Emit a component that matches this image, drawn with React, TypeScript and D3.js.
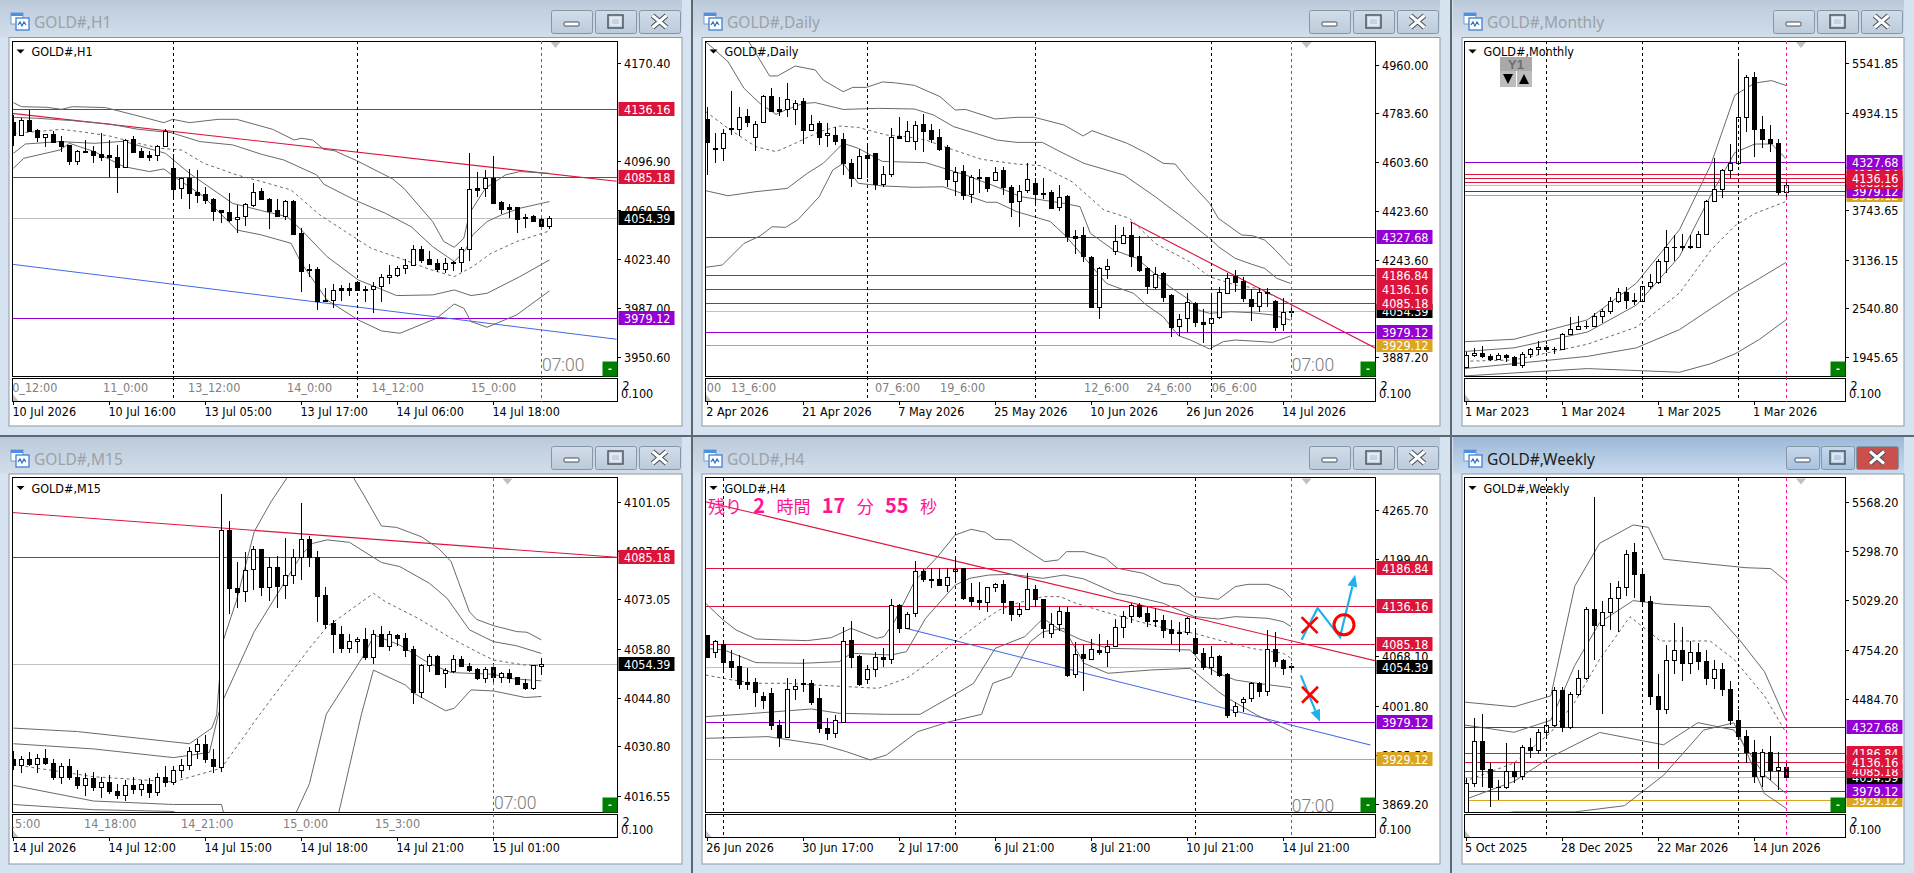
import React from 'react';
import * as d3 from 'd3';

type Candle = [number, number, number, number]; // open, high, low, close
type Pt = [number, number]; // bar index, price

// ---------- H1 ----------
const h1Candles: Candle[] = [
  [4126.3,4131.8,4108.8,4116.8],[4117,4129.3,4116,4128],[4127.8,4135.5,4118.8,4119.8],[4120.5,4121,4111.8,4115.5],
  [4115.5,4117.5,4108,4117.3],[4117.3,4120,4111,4111.8],[4112.3,4116,4104.3,4108.8],[4109.3,4109.3,4094.3,4097.5],
  [4097.5,4105.5,4094.3,4104.5],[4104.8,4113,4104,4104.3],[4104.5,4108.5,4096,4102],[4102.5,4118,4097.5,4100.5],
  [4101.8,4113,4085.5,4100],[4100,4109.3,4073,4093],[4093,4113.5,4091.8,4112.8],[4113.8,4116,4103.5,4104.3],
  [4104.5,4106.8,4100,4100.5],[4101.5,4105,4097.5,4100.5],[4101.5,4109.3,4097.5,4108.5],[4108.3,4121,4108,4119.5],
  [4091.8,4102.5,4068.5,4076.3],[4076.8,4084.3,4068.5,4084.3],[4084.5,4091,4061,4073.5],[4074,4090.5,4065.5,4072],
  [4072.5,4078,4065,4068],[4068.8,4069.3,4052.5,4060],[4060.3,4060.3,4050.5,4058.8],[4058.8,4073,4051.8,4053],
  [4053.5,4064.3,4043.5,4055.5],[4055.8,4065.5,4048.5,4064.8],[4064.5,4080.5,4063,4074.3],[4074.5,4076.8,4068,4068.5],
  [4068.5,4069.3,4046.5,4060],[4060.3,4068.5,4055,4056],[4056.3,4068,4053,4067],[4067.3,4068,4041.8,4042.5],
  [4043,4046.8,3999,4015],[4016.3,4020,4010,4015.3],[4016,4017.5,3985.5,3992.5],[3993,4001.8,3991.8,3992.3],
  [3992.8,4005,3986.8,4000.8],[4001.8,4004.3,3992.5,4000.8],[4001.8,4005.5,3996,4000.8],[4006.3,4006.8,4000,4000.8],
  [4001.3,4003.5,3991.8,4000.8],[4001.3,4006.8,3983,4003.8],[4003.8,4012.5,3991.8,4010],[4010,4019,4005,4012],
  [4012,4018.5,4010.5,4016.8],[4016.8,4023.5,4012.5,4019.5],[4019.5,4034.3,4018.5,4031],[4031,4033.5,4021,4023.3],
  [4023.5,4029.8,4019.3,4020],[4020.5,4023.5,4014.3,4016],[4016,4024.3,4013,4021],[4021,4022.3,4015,4021.5],
  [4021.5,4032.5,4014.3,4031],[4031,4103,4022.5,4076],[4076.8,4089,4070.5,4075.8],[4076.8,4090.5,4070.5,4084.8],
  [4084.8,4101,4065,4065.8],[4066.5,4067.3,4057.5,4061.5],[4062.5,4064.8,4054.3,4061.5],[4062.5,4063,4043,4054],
  [4054.3,4057.3,4047.3,4055.5],[4055.8,4056.8,4052,4052.5],[4053.8,4054.3,4048,4048.5],[4048.8,4056,4046.3,4054.3],
];
const h1Upper2: Pt[] = [[0,4141],[1,4138],[4.2,4137.5],[6,4136],[7.4,4138],[11.5,4137.3],[15.1,4131.8],[18.8,4126],[19.9,4128.5],[22,4126],[25.6,4128.5],[27.9,4128.5],[32.4,4121],[35.1,4113],[36,4114.3],[37.4,4113],[38.8,4106],[40.1,4105],[42.9,4097.5],[47.4,4083.8],[48.8,4076.8],[52.4,4051.8],[53.8,4036.8],[55.1,4032.5],[56.3,4039.3],[57,4058],[59,4076.8],[61.5,4086.8],[63.3,4089.3],[67,4088]];
const h1Upper1: Pt[] = [[0,4130],[2.9,4129.3],[7.4,4127.5],[12,4125],[15.6,4121],[19.7,4118.5],[23.3,4111.8],[27.4,4109.3],[31,4102.3],[33.8,4098],[37.9,4086.8],[38.8,4079.8],[42.9,4067.3],[46.5,4058],[49.7,4048],[52.4,4033],[55.1,4021.8],[56.5,4030.5],[57.4,4041.8],[59.2,4051.8],[61,4056.8],[63.3,4061.8],[67,4066.8]];
const h1Mid: Pt[] = [[0,4118],[2.9,4119.3],[6,4121],[8.3,4119.3],[12,4116],[15.6,4110.5],[18.3,4106.8],[21,4105.5],[23.8,4095.5],[27.9,4086.8],[31.5,4081],[34.7,4075.5],[38.3,4056.8],[41.5,4044.3],[44.7,4031.8],[48.3,4024.3],[52,4016],[55.1,4010.5],[57.4,4018],[59.7,4028],[62.9,4036.8],[67,4044.8]];
const h1Lower1: Pt[] = [[0,4103],[1.5,4110],[5.8,4111.8],[10.1,4110.5],[13.8,4112],[19,4103],[22,4088],[27.4,4065.5],[31,4060],[34.2,4055.5],[36,4045.5],[39.2,4025.5],[43.1,4008],[47.9,3996.3],[52.4,3996.8],[55.1,4000.5],[57.2,3996.3],[59.2,3998],[63.3,4010.5],[67,4023]];
const h1Lower2: Pt[] = [[0,4091.8],[1.3,4099.3],[5.8,4105.5],[7,4110.5],[10.1,4104.3],[13.8,4093],[17,4089.3],[18.8,4091.3],[20.1,4085.5],[23.8,4070.5],[27.9,4045.5],[31,4041.8],[34.7,4035.5],[36,4020.5],[39.2,3993],[43.1,3978],[46,3969.8],[48.3,3968],[52.9,3979.3],[55.1,3990],[56.3,3986.8],[57.2,3976.8],[59.2,3972.5],[62.9,3981.8],[67,3999.8]];
const h1Ticks = [4170.4, 4096.9, 4060.5, 4023.4, 3987.0, 3950.6];
const h1Levels = [4136.16, 4085.18, 3979.12];
const h1Red: Pt[] = [[-0.2,4133],[75.4,4082]];
const h1Blue: Pt[] = [[-0.2,4019.8],[75.4,3963.5]];
const h1Bottom = ['10 Jul 2026','10 Jul 16:00','13 Jul 05:00','13 Jul 17:00','14 Jul 06:00','14 Jul 18:00'];
const h1Top = ['10_12:00','11_0:00','13_12:00','14_0:00','14_12:00','15_0:00'];

// ---------- Daily ----------
const dailyCandles: Candle[] = [
  [4759,4803,4554,4677],[4652,4707,4600,4648],[4652,4722,4607,4707],[4726,4864,4701,4722],[4722,4803,4697,4766],
  [4770,4795,4732,4750],[4692.5,4754,4643.5,4740],[4748,4848,4746,4843],[4843,4873,4789,4790.5],[4795,4842,4771,4790.5],
  [4795,4891,4768.5,4834.5],[4795,4830,4739,4820],[4825,4836,4668,4721],[4721,4774.5,4717,4740],[4744,4754,4664,4695],
  [4700,4744,4658,4710],[4700,4732,4664,4680],[4685,4707,4554,4597],[4599.5,4612,4511,4544],[4544,4648.5,4542,4623],
  [4626,4670.5,4542,4615],[4634,4636,4499,4521],[4522,4587,4511,4556.6],[4559,4725.6,4545.5,4692.5],[4697,4766,4685,4689],
  [4680,4754,4676.6,4717],[4680,4754,4646,4736.6],[4740,4778,4640,4717],[4718,4741.5,4670.5,4687.6],[4692.5,4722,4643.5,4651],
  [4656,4664,4511,4540.6],[4531,4584.8,4477,4566.4],[4567.6,4591,4462,4482],[4483,4554,4452.5,4545.6],[4548,4575,4487,4544.3],
  [4545.6,4548,4490.5,4507.6],[4534.5,4582,4532,4566.4],[4571,4582,4480.7,4509],[4511,4517.4,4401,4456],[4457.4,4517.4,4364.3,4496.6],
  [4498,4597,4489,4540.6],[4523.5,4542,4440,4485.6],[4489,4542,4464.8,4485.6],[4490.5,4499,4428,4434],[4438,4517.4,4423,4474.5],
  [4477,4480.7,4309,4329],[4329,4352,4264,4324],[4332.5,4362,4236,4256.6],[4253,4256.6,4064.3,4070.5],[4070.5,4217.4,4024,4211.3],
  [4210,4244.3,4171,4218.6],[4273.7,4370.5,4260,4310.5],[4305.6,4362,4303,4332.5],[4332.5,4383,4217.4,4258],[4255.4,4330,4199,4205],
  [4211.3,4217.4,4117,4147.6],[4141.5,4217.4,4134,4189.2],[4193,4199,4089,4107],[4113.3,4115.8,3958,3997],[3999,4043.5,3963,4024],
  [4027.6,4119.5,3977,4086.4],[4082.7,4089,3997,4015.3],[4015.3,4060.7,3938,4005.6],[4009,4119.5,3917.4,4030],[4033.7,4141.5,4024,4123],
  [4122,4193,4119.5,4174.6],[4183.3,4205,4124.4,4162.3],[4164.7,4180.6,4089,4103.5],[4097.4,4134,4019,4074],[4074,4138,4052,4123],
  [4125.5,4138,4070.5,4122],[4091.3,4095,3982,3997],[4005.6,4101,3982,4049.7],[4054.5,4064.3,4033.7,4051],
];
const dailyUpper2: Pt[] = [[-0.2,5148],[5.2,5044],[7.8,4918],[8.8,4918],[11,4954.5],[13.5,4940],[14.5,4903],[17,4860],[18.2,4876],[19.9,4876],[21.9,4896],[23.4,4893],[25.9,4883.5],[29.1,4842],[31,4793],[32.3,4795],[36,4760],[38.7,4766],[40.9,4766],[44.6,4738],[47,4697.4],[48.1,4717],[52.5,4670.5],[54.8,4636],[57,4597],[58.5,4594.5],[60.3,4529.6],[62.8,4450],[63.9,4395],[66.8,4334],[68.2,4331],[69.7,4315],[71,4278.6],[72.9,4220]];
const dailyUpper1: Pt[] = [[-0.2,5044],[2.6,4970.5],[4.6,4872.5],[6.6,4817],[8.6,4777],[9.8,4793],[12,4817],[13.5,4820],[17,4795],[21.4,4799],[25.9,4796.6],[28.3,4774.5],[30.8,4731.7],[33.3,4709.6],[36.2,4682.7],[38.7,4674],[41.9,4674],[44.1,4640],[47.1,4597],[52.1,4554],[56,4474.5],[60.3,4379],[62.8,4321.5],[63.9,4291],[66,4248],[68,4227],[69.7,4211],[71.2,4174.6],[72.9,4156]];
const dailyMid: Pt[] = [[-0.2,4787],[2.6,4725.6],[6.1,4658],[8.6,4640],[11,4670.5],[14,4713],[16.5,4734],[18.9,4729],[22.4,4701],[24.9,4695],[27.3,4683],[30.8,4646],[34.3,4611.7],[38.7,4594.5],[41.7,4588.4],[45.6,4529.6],[49.6,4425.6],[52.8,4395],[56,4303],[60.3,4235.8],[62.8,4180.6],[66,4150],[68.7,4138],[70.1,4119.5],[72.8,4082.7]];
const dailyLower1: Pt[] = [[-0.2,4496.6],[2.6,4478],[6.1,4493],[10,4505],[12.5,4560],[14.5,4597],[17,4670.5],[18.9,4652],[21.9,4604],[27.3,4599.5],[32.3,4554],[37.2,4499],[39.2,4474.5],[44.6,4450],[46.6,4438],[47.9,4340],[50.8,4278.6],[53.7,4248],[57.8,4144],[60.3,4095],[61.4,4058],[62.8,4046],[65.5,4052],[68,4048.4],[70.7,4040],[72.9,4021.5]];
const dailyLower2: Pt[] = [[-0.2,4215],[1.9,4223.5],[4.6,4303],[6.6,4330],[8.1,4364],[9.8,4362],[11.3,4389],[14,4474.5],[15.7,4572.5],[17,4597],[18.9,4523.5],[21.9,4514],[25.9,4509],[29.5,4511],[32.4,4480.7],[34.9,4454],[36.2,4454],[38.7,4419.5],[42.9,4383],[44.9,4327.6],[49.9,4156],[51.2,4141.5],[53.3,4119.5],[54.9,4076.6],[57,4033.7],[58.9,3964],[60.4,3948],[62.8,3915],[64.5,3942],[66,3948],[70.7,3939.5],[72.9,3962.7]];
const dailyTicks = [4960, 4783.6, 4603.6, 4423.6, 4243.6, 3887.2];
const dailyLevels = [4327.68, 4186.84, 4136.16, 4085.18, 3979.12, 3929.12];
const dailyRed: Pt[] = [[52.9,4382.7],[83.6,3917]];
const dailyBottom = ['2 Apr 2026','21 Apr 2026','7 May 2026','25 May 2026','10 Jun 2026','26 Jun 2026','14 Jul 2026'];
const dailyTop = ['01_6:00','13_6:00','07_6:00','19_6:00','12_6:00','24_6:00','06_6:00'];

// ---------- Monthly ----------
const monthlyCandles: Candle[] = [
  [1825,2009,1810,1969],[1969,2049,1950,1990],[1990,2080,1932,1962],[1962,1985,1893,1919],[1919,1987,1903,1965],
  [1965,1980,1884,1940],[1940,1953,1849,1849],[1849,2009,1810,1984],[1984,2052,1932,2036],[2036,2135,1973,2063],
  [2063,2088,2001,2039],[2039,2065,1984,2044],[2044,2235,2039,2230],[2230,2431,2228,2286],[2286,2450,2277,2327],
  [2327,2387,2286,2326],[2326,2483,2319,2447],[2447,2531,2364,2503],[2503,2685,2471,2634],[2634,2790,2603,2744],
  [2744,2801,2537,2643],[2643,2726,2583,2624],[2624,2817,2614,2812],[2812,2956,2772,2857],[2857,3149,2833,3123],
  [3123,3500,2970,3288],[3288,3435,3120,3289],[3289,3452,3247,3303],[3303,3439,3268,3290],[3290,3489,3282,3447],
  [3447,3871,3436,3858],[3858,4381,3850,4002],[4002,4245,3886,4239],[4239,4550,4140,4319],[4319,5595,4300,4890],
  [4890,5400,4700,5380],[5380,5440,4400,4740],[4740,4900,4500,4620],[4620,4780,4450,4560],[4560,4620,3930,3960],
  [3960,4100,3900,4054],
];
const monthlyUpper2: Pt[] = [[-0.2,2131],[6,2161],[15.2,2400],[21.3,2849],[26.7,3506],[30.6,4299],[33.6,5151],[36.1,5300],[38.2,5330],[40,5270]];
const monthlyUpper1: Pt[] = [[-0.2,2011],[6,2056],[15.2,2250],[21.3,2580],[26.7,3178],[30.6,3925],[33.6,4448],[36.1,4553],[38.2,4553],[40,4373]];
const monthlyMid: Pt[] = [[-0.2,1892],[6,1907],[15.2,2101],[21.3,2310],[26.7,2729],[30.6,3252],[33.6,3551],[36.1,3701],[40,3850]];
const monthlyLower1: Pt[] = [[-0.2,1802],[15.2,1952],[21.3,2056],[26.7,2280],[30.6,2535],[33.6,2729],[36.7,2908],[40,3103]];
const monthlyLower2: Pt[] = [[-0.2,1712],[15.2,1802],[26.7,1757],[30.6,1862],[33.6,1981],[36.7,2161],[40,2400]];
const monthlyTicks = [5541.85, 4934.15, 3743.65, 3136.15, 2540.8, 1945.65];
const monthlyLevels = dailyLevels;
const monthlyBottom = ['1 Mar 2023','1 Mar 2024','1 Mar 2025','1 Mar 2026'];

// ---------- M15 ----------
const m15Candles: Candle[] = [
  [4027,4029.5,4024,4025.5],[4025.5,4028,4023,4027],[4027,4029,4025,4025.8],[4025.8,4028.5,4023,4027.5],[4027.5,4030,4025.5,4026],
  [4026,4027,4021,4022],[4022,4026,4020,4025],[4025,4027,4021,4021.8],[4021.8,4024,4018.5,4019.5],[4019.5,4023,4016.5,4021.5],
  [4021.5,4023.5,4018,4019],[4019,4022,4016,4020.5],[4020.5,4022.5,4017,4018],[4018,4020,4015.5,4016.8],[4016.8,4021,4015,4019.5],
  [4019.5,4022,4017,4018.5],[4018.5,4021,4016.5,4020],[4020,4021.5,4016,4017.5],[4017.5,4023,4016.5,4022],[4022,4025,4019,4020.5],
  [4020.5,4025,4019.5,4024],[4024,4027,4021.5,4025.5],[4025.5,4030.5,4024,4029.5],[4029.5,4033,4027,4031.5],[4031.5,4034,4026,4027],
  [4027,4030,4023,4025],
  [4024.9,4103.3,4023.5,4092.95],[4093,4095.6,4069,4076.3],[4076.3,4083.7,4070.7,4075.3],[4075.4,4086.6,4072.2,4081.4],[4081.7,4088.5,4075.9,4087.5],
  [4087.6,4087.6,4074.1,4076.7],[4076.5,4085.3,4072.6,4082.3],[4082.4,4085.6,4070.7,4077],[4077.1,4090.7,4073.2,4080],[4080.2,4087.6,4077.6,4085.2],
  [4085.2,4100.8,4078.6,4090.4],[4090.4,4091.3,4082.4,4085.2],[4085.2,4087,4066.7,4074.1],[4074.3,4076.5,4064.5,4066.1],[4066.2,4067.1,4057.7,4063],
  [4063,4065.4,4057.7,4059.2],[4059.2,4063,4057.7,4061],[4061,4062.3,4057.7,4061.6],[4061.6,4064.7,4055.6,4056.6],[4056.6,4064.25,4054.6,4063],
  [4063,4065.4,4059.4,4059.6],[4059.7,4064,4058.2,4063],[4062.8,4063.1,4059.7,4061.9],[4061.9,4063.3,4056.6,4058.6],[4058.7,4059.7,4042.8,4046.5],
  [4046.5,4054.6,4044.8,4054.1],[4054.1,4057.4,4052.2,4056.7],[4056.8,4057.1,4051.5,4051.6],[4051.8,4053.2,4047.6,4052.6],[4052.5,4057.05,4051.8,4055.8],
  [4055.9,4056.8,4053.6,4053.8],[4053.8,4054.7,4052.2,4052.6],[4052.9,4053.4,4049.8,4050.3],[4050.3,4053.6,4049.1,4052.9],[4053.5,4054.7,4048.6,4050.6],
  [4050.6,4052.1,4049.1,4051.8],[4051.8,4053,4048.9,4050.4],[4050.6,4050.8,4048.6,4048.8],[4049,4050.1,4046.9,4047.6],[4047.6,4054.1,4046.9,4054.1],
  [4053.8,4056.3,4051.3,4054.4],
];
const m15Upper2: Pt[] = [[0,4036],[8,4035],[16,4033],[22,4031.5],[24.8,4036],[25.4,4039.8],[26.1,4060.4],[27.9,4072.9],[30.1,4092.6],[32.2,4101.2],[34.2,4108.1],[36,4114.6],[40.8,4114.6],[42.5,4108.1],[43.8,4103.1],[46,4094.2],[47.9,4093.8],[51,4091.1],[53.1,4087.8],[54.7,4084],[57,4069.5],[57.9,4067.3],[60,4065.5],[62.9,4063.8],[64.2,4063.6],[66,4061.4]];
const m15Upper1: Pt[] = [[0,4031.5],[10,4030],[20,4027.5],[24.5,4029],[25.6,4039.8],[26.1,4043.6],[30.1,4063.8],[36,4085.9],[37.4,4089.2],[39.2,4090.2],[42,4089.5],[46,4083.7],[48.3,4082.5],[52,4077.7],[54.2,4073.4],[57,4064.3],[60,4060.9],[62.9,4059.7],[66,4057.5]];
const m15Mid: Pt[] = [[0,4025.5],[10,4022],[20,4020.5],[26,4024.5],[30.8,4040],[37,4059],[39.2,4065.2],[45,4074.8],[46.5,4072.4],[50.6,4067.6],[54.7,4061.9],[57.9,4058],[60,4055.6],[63.8,4054.2],[66,4054]];
const m15Lower1: Pt[] = [[0,4019.5],[10,4015],[20,4014],[26,4014],[27,4005],[34,4005],[37,4020],[39.1,4040],[43.8,4057],[45.1,4062.8],[48.3,4059.9],[52,4054.6],[54.7,4052],[60,4051.5],[62,4050.3],[66,4049.6]];
const m15Lower2: Pt[] = [[0,4014],[10,4012.5],[20,4012],[26,4005],[40,4005],[43.5,4040],[45,4052.7],[49,4048.4],[50.1,4046],[54,4041],[55.1,4041.7],[57.2,4047],[60,4046.7],[64,4044.8],[66,4045.1]];
const m15Ticks = [4101.05, 4087.05, 4073.05, 4058.8, 4044.8, 4030.8, 4016.55];
const m15Levels = [4085.18];
const m15Red: Pt[] = [[-0.2,4098.1],[75.4,4085.2]];
const m15Bottom = ['14 Jul 2026','14 Jul 12:00','14 Jul 15:00','14 Jul 18:00','14 Jul 21:00','15 Jul 01:00'];
const m15Top = ['14_15:00','14_18:00','14_21:00','15_0:00','15_3:00'];

// ---------- H4 ----------
const h4Candles: Candle[] = [
  [4097,4097,4065.5,4067.8],[4074.5,4090.3,4065.5,4088.5],[4084.9,4085.8,4047.5,4061],[4061.9,4076.8,4039.4,4054.3],[4055.2,4070,4024.1,4030.9],
  [4033.1,4052,4022.8,4031.3],[4033.1,4039.4,4000.3,4020],[4014.7,4020.5,3997.1,4009.3],[4018.3,4025,3968.8,3975.5],[3975.5,3982,3945.8,3959.8],
  [3959.8,4038.5,3957.5,4023.7],[4023.7,4037.6,4009.3,4028.6],[4031.8,4064.6,4020.5,4030.4],[4032.7,4036.3,4002.5,4007],[4011.5,4025,3964.3,3971],
  [3971.9,3984.5,3955.3,3964.3],[3964.3,3989,3957.5,3982.3],[3980,4108.3,3977.8,4089.4],[4090.3,4115.9,4052,4067.8],[4068.7,4070,4028.2,4030.9],
  [4037.2,4056.5,4030.9,4051.1],[4050.7,4074.5,4040.8,4066.9],[4066.9,4079.9,4054.3,4064.6],[4065,4145.6,4057.4,4137],[4137,4138.9,4100.2,4106.9],
  [4106,4127.6,4104.7,4124.9],[4126.3,4196.9,4120.9,4183.4],[4183.9,4185.7,4169,4172.2],[4173.1,4187,4160.9,4171.7],[4172.6,4187,4163.2,4164.5],
  [4164.5,4187,4155.5,4175.8],[4183.9,4203.7,4169,4186.6],[4187,4187,4144.3,4147.4],[4148.3,4166.8,4136.2,4143.4],[4144.3,4169,4130.8,4141.1],
  [4141.1,4162.3,4128,4161.4],[4161.4,4167.7,4155.5,4165.4],[4165.4,4171.3,4125.4,4142],[4142.5,4143.4,4116.4,4124.9],[4124.9,4140.7,4120.9,4131.7],
  [4131.7,4180.3,4130.8,4158.7],[4158.7,4164.5,4135.3,4145.2],[4145.2,4145.6,4092.5,4106],[4099.3,4126.3,4092.5,4111.4],[4111.4,4135.3,4102.9,4129],
  [4128,4135.3,4040.8,4043],[4044,4087.1,4038.5,4071],[4071.4,4083.5,4021.9,4065.5],[4064.6,4091.2,4063.3,4077.7],[4076.8,4098.4,4070,4073.6],
  [4073.6,4090.3,4054.3,4082.2],[4082.2,4118.2,4081.3,4107.4],[4107.4,4129.9,4092.5,4122.2],[4122.7,4140.7,4112.8,4137.5],[4137.5,4139.8,4119.5,4122.7],
  [4126.3,4135.3,4108.3,4116.4],[4117.3,4133,4108.3,4115.9],[4117.3,4124,4093.4,4103.8],[4105.1,4117.3,4084.9,4100.2],[4101.5,4115,4074.5,4100.2],
  [4101.5,4121.8,4097,4119.5],[4092.5,4106.9,4071.4,4072.3],[4072.3,4079,4049.8,4054.3],[4053.4,4082.6,4043,4067.8],[4068.7,4070,4040.8,4043],
  [4044.4,4045.3,3985,3989],[3992.6,4007,3986.8,4001.2],[4007,4013.8,3993.5,4010.2],[4011.5,4034,4006.1,4031.8],[4031.8,4034,4013.8,4021.9],
  [4021.9,4103.8,4015.1,4077.7],[4077.7,4101.5,4054.3,4062.4],[4063.3,4064.6,4043,4052.9],[4055.2,4058.8,4047.5,4053.8],
];
const h4Upper2: Pt[] = [[-0.2,4139.8],[2,4117.3],[3.6,4103.8],[6.1,4091.6],[9.5,4090.3],[12.5,4089.4],[15.5,4093.4],[18,4106],[21.2,4092.5],[22.1,4094.8],[23.4,4115],[25.9,4169],[28.8,4202.8],[31,4232],[33,4239.7],[34.8,4235.6],[36,4226.2],[38,4225.3],[42.2,4196],[43.9,4198.3],[44.9,4209.5],[47.1,4209.5],[49.8,4200.5],[51.3,4187],[54.5,4180.3],[57,4166.8],[59,4163.6],[60.9,4148.8],[63.9,4145.2],[66,4162.3],[67.6,4165.4],[70.1,4165.4],[72,4157.8],[73,4146.5]];
const h4Upper1: Pt[] = [[-0.2,4079],[2.1,4076.8],[6.1,4059.7],[12,4058.8],[16.5,4061],[18,4072.3],[23,4070],[24.9,4074.5],[27.3,4119.5],[31,4164.5],[32.8,4173.5],[35.2,4178],[38,4178.9],[42,4173.5],[44.6,4178],[47.1,4172.6],[51.1,4153.3],[53,4150],[57,4139.8],[60.9,4121.8],[63.9,4118.6],[66,4121.8],[70.1,4119.5],[72,4115],[73,4108.3]];
const h4Mid: Pt[] = [[-0.2,4043],[3.1,4036.3],[6.1,4031.8],[10,4031.8],[13.5,4029.5],[17.4,4027.3],[21.4,4025],[24.9,4038.5],[27.3,4056.5],[31,4088],[34.3,4115],[36.5,4130.8],[38.7,4139.8],[42,4148.8],[44.1,4148.8],[46.1,4139.8],[49.6,4128.5],[54,4115],[58,4103.8],[60.9,4099.3],[63.9,4090.3],[68,4079],[72,4072.3],[73,4065.5]];
const h4Lower1: Pt[] = [[-0.2,3986.8],[4.1,3989.9],[8.6,3993.5],[13,3997.1],[16.5,3991.3],[22.4,3989.9],[26.6,3989.9],[31,4016.9],[33.3,4031.8],[36,4079],[39.7,4094.8],[42,4119.5],[44.1,4103.8],[46.6,4091.2],[50.1,4079],[60.4,4076.8],[62,4056.5],[63.9,4045.3],[66,4036.3],[68.7,4031.8],[73,4025.9]];
const h4Lower2: Pt[] = [[-0.2,3957.5],[7.6,3959.8],[14.5,3948.5],[17.4,3939.5],[20.4,3928.3],[22.4,3935],[26.3,3966.5],[30.3,3980],[34.3,3989.9],[35.7,4031.8],[38,4040.8],[40.4,4088],[42,4101.5],[44.6,4106],[47.1,4058.8],[50.1,4045.3],[55.5,4049.8],[60.4,4052],[63.9,4020.5],[65.1,4011.5],[68.7,3989],[72.2,3971],[73,3966.5]];
const h4Ticks = [4265.7, 4199.4, 4068.1, 4001.8, 3935.5, 3869.2];
const h4Levels = [4186.84, 4136.16, 4085.18, 3979.12, 3929.12];
const h4Red: Pt[] = [[-0.2,4277],[83.6,4062]];
const h4Blue: Pt[] = [[24.8,4106],[82.9,3948.5]];
const h4Bottom = ['26 Jun 2026','30 Jun 17:00','2 Jul 17:00','6 Jul 21:00','8 Jul 21:00','10 Jul 21:00','14 Jul 21:00'];
const h4UpPath: Pt[] = [[74.3,4090.6],[76.3,4133.4],[79.1,4094.2],[81,4178.3]];
const h4DownPath: Pt[] = [[74.2,4042.4],[76.6,3979.9]];
const h4Crosses: Pt[] = [[75.3,4110.4],[75.35,4016.3]];
const h4Ring: Pt = [79.6,4110.8];

// ---------- Weekly ----------
const weeklyCandles: Candle[] = [
  [3830,4050,3820,4020],[4020,4380,4000,4250],[4250,4400,4000,4100],[4100,4130,3890,4000],[4000,4040,3930,4000],
  [4000,4240,3990,4085],[4085,4130,4020,4060],[4060,4230,4040,4220],[4220,4270,4160,4200],[4200,4320,4180,4300],
  [4300,4380,4270,4340],[4340,4550,4330,4530],[4530,4550,4300,4330],[4330,4520,4320,4510],[4510,4640,4500,4600],
  [4600,4990,4590,4980],[4980,5595,4700,4890],[4890,5020,4400,4960],[4960,5120,4860,5040],[5040,5130,4850,5100],
  [5100,5300,5050,5280],[5290,5340,5040,5170],[5170,5200,4990,5020],[5020,5050,4450,4500],[4500,4620,4100,4430],
  [4430,4780,4400,4700],[4700,4900,4620,4750],[4750,4880,4580,4680],[4680,4800,4620,4740],[4740,4790,4640,4690],
  [4690,4750,4560,4600],[4600,4700,4540,4650],[4650,4680,4500,4540],[4540,4580,4340,4370],[4370,4420,4260,4280],
  [4280,4310,4130,4190],[4190,4260,4020,4060],[4060,4210,4000,4190],[4190,4280,4040,4090],[4090,4190,3980,4110],
  [4110,4130,4030,4054],
];
const weeklyUpper2: Pt[] = [[-0.2,4466],[6,4440],[10.6,4500],[13.6,5104],[16.7,5339],[20.9,5440],[22.8,5427],[24.7,5252],[30.5,5225],[35,5205],[38.1,5200],[40,5131]];
const weeklyUpper1: Pt[] = [[-0.2,4340],[6,4300],[10.6,4366],[13.6,4668],[16.7,4903],[20.9,5024],[24.7,5004],[30.5,4990],[34.3,4802],[37.3,4634],[40,4366]];
const weeklyMid: Pt[] = [[-0.2,4030],[6,4131],[10.6,4299],[13.6,4466],[16.7,4701],[20.5,4936],[24.3,4802],[30.5,4802],[33.5,4701],[37.3,4500],[40,4299]];
const weeklyLower1: Pt[] = [[-0.2,3929],[6,4030],[10.6,4164],[13.6,4231],[16.7,4299],[24.7,4231],[29,4353],[33.5,4312],[37.3,4064],[40,3963]];
const weeklyLower2: Pt[] = [[-0.2,3829],[6,3862],[13.6,3862],[19.8,3896],[24.7,4064],[29.7,4312],[33.5,4352],[37.3,3963],[40,3882]];
const weeklyTicks = [5568.2, 5298.7, 5029.2, 4754.2, 4484.7];
const weeklyLevels = dailyLevels;
const weeklyBottom = ['5 Oct 2025','28 Dec 2025','22 Mar 2026','14 Jun 2026'];

const BID = 4054.39;
const CRIMSON = '#DC143C';
const VIOLET = '#9400D3';
const GOLD = '#DAA520';
const PINK = '#FF1493';
const BLUE = '#4169E1';
const GREY = '#696969';
const AXIS_FONT = '"DejaVu Sans Condensed","DejaVu Sans",sans-serif';

const levelColor = (v: number) =>
  v === 4327.68 || v === 3979.12 ? VIOLET : v === 3929.12 ? GOLD : CRIMSON;

// order the price tags are stacked in, bottom first
const TAG_ORDER = [3929.12, 3979.12, 4085.18, 4186.84, 4136.16, 4327.68];

interface Win {
  title: string; left: number; right: number; top: number; bottom: number; active?: boolean;
}
interface PanelDef {
  id: string; win: Win;
  l: number; r: number; t: number; b: number;
  x0: number; // centre of the first bar
  priceAtTop: [number, number]; // [price, y] pair for the scale
  priceAtBottom: [number, number];
  candles: Candle[];
  bands: Pt[][];
  ticks: number[]; levels: number[];
  reds: Pt[][]; blues: Pt[][];
  dashed: number[]; magenta: number;
  bottom: string[]; top?: string[]; topX?: number[];
  clockY?: number; triangleX: number;
}

const scalesFor = (p: PanelDef) => ({
  x: d3.scaleLinear().domain([0, 1]).range([p.x0, p.x0 + 8]),
  y: d3.scaleLinear().domain([p.priceAtTop[0], p.priceAtBottom[0]]).range([p.priceAtTop[1], p.priceAtBottom[1]]),
});

const rowTop = { t: 41, b: 376.5, stripT: 378.5, stripB: 401.5, labelY: 416 };
const rowBot = { t: 477.5, b: 812.5, stripT: 814.5, stripB: 837.5, labelY: 852 };

const panels: PanelDef[] = [
  { id: 'h1', win: { title: 'GOLD#,H1', left: 0, right: 682, top: 0, bottom: 435 }, l: 12.5, r: 617.5, t: rowTop.t, b: rowTop.b, x0: 13.45,
    priceAtTop: [4218, 0], priceAtBottom: [3935.6, 376.5], candles: h1Candles, bands: [h1Upper2, h1Upper1, h1Mid, h1Lower1, h1Lower2],
    ticks: h1Ticks, levels: h1Levels, reds: [h1Red], blues: [h1Blue], dashed: [20, 43, 66], magenta: 66, bottom: h1Bottom, top: h1Top, topX: [5, 103, 188, 287, 371.5, 471], clockY: 371, triangleX: 555.5 },
  { id: 'daily', win: { title: 'GOLD#,Daily', left: 693, right: 1440, top: 0, bottom: 435 }, l: 705.5, r: 1375.5, t: rowTop.t, b: rowTop.b, x0: 707.2,
    priceAtTop: [5197, 0], priceAtBottom: [3814, 376.5], candles: dailyCandles, bands: [dailyUpper2, dailyUpper1, dailyMid, dailyLower1, dailyLower2],
    ticks: dailyTicks, levels: dailyLevels, reds: [dailyRed], blues: [], dashed: [20, 41, 63], magenta: 73, bottom: dailyBottom, top: dailyTop, topX: [676, 731, 875, 940, 1084, 1146.5, 1211.7], clockY: 371, triangleX: 1306.5 },
  { id: 'monthly', win: { title: 'GOLD#,Monthly', left: 1453, right: 1904, top: 0, bottom: 435 }, l: 1464.5, r: 1845.5, t: rowTop.t, b: rowTop.b, x0: 1466,
    priceAtTop: [6317.3, 0], priceAtBottom: [1705, 376.5], candles: monthlyCandles, bands: [monthlyUpper2, monthlyUpper1, monthlyMid, monthlyLower1, monthlyLower2],
    ticks: monthlyTicks, levels: monthlyLevels, reds: [], blues: [], dashed: [10, 22, 34], magenta: 40, bottom: monthlyBottom, triangleX: 1801 },
  { id: 'm15', win: { title: 'GOLD#,M15', left: 0, right: 682, top: 437, bottom: 873 }, l: 12.5, r: 617.5, t: rowBot.t, b: rowBot.b, x0: 13.45,
    priceAtTop: [4143.45, 355], priceAtBottom: [4011.55, 813], candles: m15Candles, bands: [m15Upper2, m15Upper1, m15Mid, m15Lower1, m15Lower2],
    ticks: m15Ticks, levels: m15Levels, reds: [m15Red], blues: [], dashed: [60], magenta: 60, bottom: m15Bottom, top: m15Top, topX: [-12, 84, 181, 283, 375], clockY: 809, triangleX: 507.5 },
  { id: 'h4', win: { title: 'GOLD#,H4', left: 693, right: 1440, top: 437, bottom: 873 }, l: 705.5, r: 1375.5, t: rowBot.t, b: rowBot.b, x0: 707.2,
    priceAtTop: [4475, 355], priceAtBottom: [3856.7, 813], candles: h4Candles, bands: [h4Upper2, h4Upper1, h4Mid, h4Lower1, h4Lower2],
    ticks: h4Ticks, levels: h4Levels, reds: [h4Red], blues: [h4Blue], dashed: [2, 31, 61], magenta: 73, bottom: h4Bottom, clockY: 812, triangleX: 1306.5 },
  { id: 'weekly', win: { title: 'GOLD#,Weekly', left: 1453, right: 1904, top: 437, bottom: 873, active: true }, l: 1464.5, r: 1845.5, t: rowBot.t, b: rowBot.b, x0: 1466,
    priceAtTop: [5700, 477.7], priceAtBottom: [3856, 813], candles: weeklyCandles, bands: [weeklyUpper2, weeklyUpper1, weeklyMid, weeklyLower1, weeklyLower2],
    ticks: weeklyTicks, levels: weeklyLevels, reds: [], blues: [], dashed: [10, 22, 34], magenta: 40, bottom: weeklyBottom, triangleX: 1801 },
];

const WinButton: React.FC<{ x: number; y: number; w: number; kind: 'min' | 'max' | 'close'; active?: boolean }> = ({ x, y, w, kind, active }) => {
  const h = 23, cx = x + w / 2, cy = y + h / 2;
  const fill = kind === 'close' && active ? '#C9504C' : active ? 'url(#btnA)' : 'url(#btnI)';
  return (
    <g>
      <rect x={x + 0.5} y={y + 0.5} width={w} height={h} rx={2} fill={fill} stroke="#8496A8" />
      {kind === 'min' && <rect x={cx - 7.5} y={cy + 0.5} width={15} height={4} rx={1} fill="#fff" stroke="#45505C" />}
      {kind === 'max' && <><rect x={cx - 7.5} y={cy - 6.5} width={15} height={13} fill="none" stroke="#45505C" strokeWidth={1.4} /><rect x={cx - 4.5} y={cy - 3.5} width={9} height={7} fill="none" stroke="#fff" /></>}
      {kind === 'close' && <g>
        <path d={`M${cx - 7} ${cy - 6}L${cx + 7} ${cy + 6}M${cx + 7} ${cy - 6}L${cx - 7} ${cy + 6}`} stroke="#45505C" strokeWidth={5} />
        <path d={`M${cx - 7} ${cy - 6}L${cx + 7} ${cy + 6}M${cx + 7} ${cy - 6}L${cx - 7} ${cy + 6}`} stroke="#fff" strokeWidth={3} />
      </g>}
    </g>
  );
};

const Window: React.FC<{ win: Win; t: number }> = ({ win, t }) => {
  const titleBottom = t - 3.5;
  const clientLeft = win.left === 0 ? 9 : win.left + 9;
  const btnY = win.top + (win.top === 0 ? 10 : 9);
  const iconX = win.left + 11;
  const iconY = win.top + 13;
  return (
    <g>
      <rect x={win.left} y={win.top} width={win.right - win.left} height={titleBottom - win.top} fill={win.active ? 'url(#titleA)' : 'url(#titleI)'} />
      <rect x={clientLeft} y={titleBottom} width={win.right - clientLeft} height={win.bottom - 9 - titleBottom} fill="#fff" stroke="#8F979F" strokeWidth={1} />
      {/* chart icon */}
      <rect x={iconX} y={iconY} width={12} height={11} fill="#fff" stroke="#6E9CD8" />
      <rect x={iconX + 5} y={iconY + 5} width={13} height={12} fill="#fff" stroke="#3F7FD8" strokeWidth={1.3} />
      <rect x={iconX} y={iconY} width={12} height={3} fill="#4F8FE0" />
      <path d={`M${iconX + 7} ${iconY + 12}l2 -3 2 4 2 -4 2 3`} fill="none" stroke="#2F6FC0" strokeWidth={1.2} />
      <text x={win.left + 34} y={win.top + 28} fontFamily='"Noto Sans",sans-serif' fontSize={15.5} fill={win.active ? '#1c1c1c' : '#9AA2AA'}>{win.title}</text>
      {win.active ? (
        <g>
          <WinButton x={win.right - 118} y={btnY} w={33} kind="min" active />
          <WinButton x={win.right - 83} y={btnY} w={33} kind="max" active />
          <WinButton x={win.right - 48} y={btnY} w={42} kind="close" active />
        </g>
      ) : (
        <g>
          <WinButton x={win.right - 131} y={btnY} w={41} kind="min" />
          <WinButton x={win.right - 87} y={btnY} w={41} kind="max" />
          <WinButton x={win.right - 43} y={btnY} w={41} kind="close" />
        </g>
      )}
    </g>
  );
};

const CandleMark: React.FC<{ c: Candle; cx: number; y: d3.ScaleLinear<number, number> }> = ({ c, cx, y }) => {
  const [o, h, l, cl] = c;
  const up = cl > o;
  const top = Math.round(y(Math.max(o, cl)));
  const bot = Math.round(y(Math.min(o, cl)));
  return (
    <g shapeRendering="crispEdges">
      <line x1={cx} x2={cx} y1={Math.round(y(h))} y2={Math.round(y(l))} stroke="#000" />
      {top === bot
        ? <line x1={cx - 2.5} x2={cx + 2.5} y1={top + 0.5} y2={top + 0.5} stroke="#000" />
        : <rect x={cx - 2} y={top + 0.5} width={4} height={bot - top} fill={up ? '#fff' : '#000'} stroke="#000" />}
    </g>
  );
};

const Panel: React.FC<{ p: PanelDef }> = ({ p }) => {
  const { x, y } = scalesFor(p);
  const row = p.t < 100 ? rowTop : rowBot;
  const line = d3.line<Pt>().x(d => x(d[0])).y(d => y(d[1]));
  const clip = `clip-${p.id}`;
  const stripClip = `strip-${p.id}`;
  const snap = (i: number) => Math.round(x(i)) + 0.5;
  const tags = TAG_ORDER.filter(v => p.levels.includes(v));
  const tagBox = (v: number, fill: string) => {
    const cy = y(v);
    return (
      <g key={v}>
        <rect x={p.r + 1} y={Math.round(cy) - 7} width={56} height={14} fill={fill} />
        <text x={p.r + 6.5} y={Math.round(cy) + 4.6} fontFamily={AXIS_FONT} fontSize={12.5} fill="#fff">{v.toFixed(2)}</text>
      </g>
    );
  };
  return (
    <g>
      <defs>
        <clipPath id={clip}><rect x={p.l} y={p.t} width={p.r - p.l} height={p.b - p.t} /></clipPath>
        <clipPath id={stripClip}><rect x={p.l} y={row.stripT} width={p.r - p.l} height={row.stripB - row.stripT} /></clipPath>
      </defs>
      <g clipPath={`url(#${clip})`}>
        {p.levels.map(v => (
          <line key={v} x1={p.l} x2={p.r} y1={Math.round(y(v)) + 0.5} y2={Math.round(y(v)) + 0.5} stroke={levelColor(v)} shapeRendering="crispEdges" />
        ))}
        <line x1={p.l} x2={p.r} y1={Math.round(y(BID)) + 0.5} y2={Math.round(y(BID)) + 0.5} stroke="#C0C0C0" shapeRendering="crispEdges" />
        {p.reds.map((d, i) => <path key={i} d={line(d) || ''} fill="none" stroke={CRIMSON} strokeWidth={1.1} />)}
        {p.blues.map((d, i) => <path key={i} d={line(d) || ''} fill="none" stroke={BLUE} strokeWidth={1.1} />)}
        {p.bands.map((d, i) => (
          <path key={i} d={line(d) || ''} fill="none" stroke={GREY} strokeWidth={1} strokeDasharray={i === 2 ? '3 3' : undefined} />
        ))}
        {p.candles.map((c, i) => <CandleMark key={i} c={c} cx={snap(i)} y={y} />)}
        {p.clockY !== undefined && (
          <text x={x(p.magenta) + 0.5} y={p.clockY} fontFamily="Roboto,sans-serif" fontWeight={300} fontSize={17.5} fill="#7A7A7A">07:00</text>
        )}
      </g>
      {/* frames */}
      <rect x={p.l} y={p.t} width={p.r - p.l} height={p.b - p.t} fill="none" stroke="#000" shapeRendering="crispEdges" />
      <rect x={p.l} y={row.stripT} width={p.r - p.l} height={row.stripB - row.stripT} fill="#fff" stroke="#000" shapeRendering="crispEdges" />
      <path d={`M${p.l + 0.5} ${row.stripB - 7}L${p.l + 6} ${row.stripB - 0.5}L${p.l + 0.5} ${row.stripB - 0.5}Z`} fill="#C0C0C0" />
      {/* period separators run through the chart and the strip */}
      {p.dashed.map(i => (
        <line key={i} x1={snap(i)} x2={snap(i)} y1={p.t} y2={row.stripB} stroke="#000" strokeDasharray="3 3" shapeRendering="crispEdges" />
      ))}
      <line x1={snap(p.magenta)} x2={snap(p.magenta)} y1={p.t} y2={row.stripB} stroke={PINK} strokeDasharray="3 3" shapeRendering="crispEdges" />
      <path d={`M${p.triangleX - 5} ${p.t + 1}h10l-5 6z`} fill="#C0C0C0" />
      {/* header */}
      <path d={`M${p.l + 4} ${p.t + 8.5}h8l-4 4z`} fill="#000" />
      <text x={p.l + 19} y={p.t + 15} fontFamily={AXIS_FONT} fontSize={12.5} fill="#000">{p.win.title}</text>
      {/* green one-click box */}
      <rect x={p.r - 15} y={p.b - 15} width={15} height={15} fill="#008000" />
      <rect x={p.r - 9} y={p.b - 8} width={3} height={1.5} fill="#fff" />
      {/* strip labels */}
      {p.top && p.topX && (
        <g clipPath={`url(#${stripClip})`}>
          {p.top.map((s, i) => (
            <text key={s} x={p.topX![i]} y={row.stripT + 13} fontFamily={AXIS_FONT} fontSize={12.5} fill="#808080">{s}</text>
          ))}
        </g>
      )}
      {/* time axis */}
      {p.bottom.map((s, i) => (
        <g key={s}>
          <line x1={snap(i * 12)} x2={snap(i * 12)} y1={row.stripB} y2={row.stripB + 3.5} stroke="#000" shapeRendering="crispEdges" />
          <text x={x(i * 12) - 1} y={row.labelY} fontFamily={AXIS_FONT} fontSize={12.5} fill="#000">{s}</text>
        </g>
      ))}
      {/* price axis */}
      {p.ticks.map(v => (
        <g key={v}>
          <line x1={p.r} x2={p.r + 3} y1={Math.round(y(v)) + 0.5} y2={Math.round(y(v)) + 0.5} stroke="#000" shapeRendering="crispEdges" />
          <text x={p.r + 6.5} y={Math.round(y(v)) + 4.6} fontFamily={AXIS_FONT} fontSize={12.5} fill="#000">{v.toFixed(2)}</text>
        </g>
      ))}
      <text x={p.r + 5} y={row.stripT + 11} fontFamily={AXIS_FONT} fontSize={12.5} fill="#000">2</text>
      <text x={p.r + 3.5} y={row.stripT + 19} fontFamily={AXIS_FONT} fontSize={12.5} fill="#000">0.100</text>
      {tagBox(BID, '#000')}
      {tags.map(v => tagBox(v, levelColor(v)))}
    </g>
  );
};

const Arrow: React.FC<{ pts: [number, number][]; color: string }> = ({ pts, color }) => {
  const a = pts[pts.length - 2], b = pts[pts.length - 1];
  const ang = Math.atan2(b[1] - a[1], b[0] - a[0]);
  const base: [number, number] = [b[0] - 12 * Math.cos(ang), b[1] - 12 * Math.sin(ang)];
  const nx = -Math.sin(ang) * 5, ny = Math.cos(ang) * 5;
  const shaft = d3.line()([...pts.slice(0, -1), base]) || '';
  return (
    <g>
      <path d={shaft} fill="none" stroke={color} strokeWidth={2.2} />
      <path d={`M${b[0]} ${b[1]}L${base[0] + nx} ${base[1] + ny}L${base[0] - nx} ${base[1] - ny}Z`} fill={color} />
    </g>
  );
};

const H4Marks: React.FC = () => {
  const p = panels[4];
  const { x, y } = scalesFor(p);
  const px = (d: Pt): [number, number] => [x(d[0]), y(d[1])];
  return (
    <g>
      <Arrow pts={h4UpPath.map(px)} color="#1DB1EC" />
      <Arrow pts={h4DownPath.map(px)} color="#1DB1EC" />
      {h4Crosses.map((c, i) => {
        const [cx, cy] = px(c);
        return <path key={i} d={`M${cx - 8} ${cy - 8}L${cx + 8} ${cy + 8}M${cx + 8} ${cy - 8}L${cx - 8} ${cy + 8}`} stroke="#FF0000" strokeWidth={2.6} />;
      })}
      <circle cx={px(h4Ring)[0]} cy={px(h4Ring)[1]} r={10} fill="none" stroke="#FF0000" strokeWidth={3} />
      <text x={708} y={513} fontFamily='"Noto Sans CJK JP",sans-serif' fontSize={17} wordSpacing={7.5} fill={PINK}>
        残り <tspan fontSize={20} fontWeight={700}>2</tspan> 時間 <tspan fontSize={20} fontWeight={700}>17</tspan> 分 <tspan fontSize={20} fontWeight={700}>55</tspan> 秒
      </text>
    </g>
  );
};

const Y1Control: React.FC = () => (
  <g fontFamily="Liberation Sans,sans-serif">
    <rect x={1500} y={57} width={32} height={14} fill="#A9A9A9" />
    <text x={1516} y={69} textAnchor="middle" fontSize={13} fontWeight={700} fill="#6E6E6E">Y1</text>
    <rect x={1500} y={71} width={16} height={16} fill="#BDBDBD" />
    <rect x={1517} y={71} width={15} height={16} fill="#BDBDBD" />
    <path d="M1503 74h10l-5 10z" fill="#000" />
    <path d="M1519 84h10l-5 -10z" fill="#000" />
  </g>
);

const App: React.FC = () => (
  <svg width={1914} height={873} viewBox="0 0 1914 873" style={{ position: 'fixed', left: 0, top: 0, display: 'block' }}>
    <defs>
      <linearGradient id="titleI" x1="0" x2="0" y1="0" y2="1"><stop offset="0" stopColor="#BBCADA" /><stop offset="1" stopColor="#D3DEEA" /></linearGradient>
      <linearGradient id="titleA" x1="0" x2="0" y1="0" y2="1"><stop offset="0" stopColor="#9CB8D8" /><stop offset="1" stopColor="#CADCEF" /></linearGradient>
      <linearGradient id="btnI" x1="0" x2="0" y1="0" y2="1"><stop offset="0" stopColor="#D2DDE9" /><stop offset="1" stopColor="#BCCADA" /></linearGradient>
      <linearGradient id="btnA" x1="0" x2="0" y1="0" y2="1"><stop offset="0" stopColor="#C6D8EC" /><stop offset="1" stopColor="#A9C2DE" /></linearGradient>
    </defs>
    <rect width={1914} height={873} fill="#D6E4F2" />
    {panels.map(p => <Window key={p.id} win={p.win} t={p.t} />)}
    <rect x={691} y={0} width={2} height={873} fill="#5F6870" />
    <rect x={1450} y={0} width={2} height={873} fill="#5F6870" />
    <rect x={0} y={435} width={1914} height={2} fill="#5F6870" />
    {panels.map(p => <Panel key={p.id} p={p} />)}
    <H4Marks />
    <Y1Control />
  </svg>
);

export default App;
